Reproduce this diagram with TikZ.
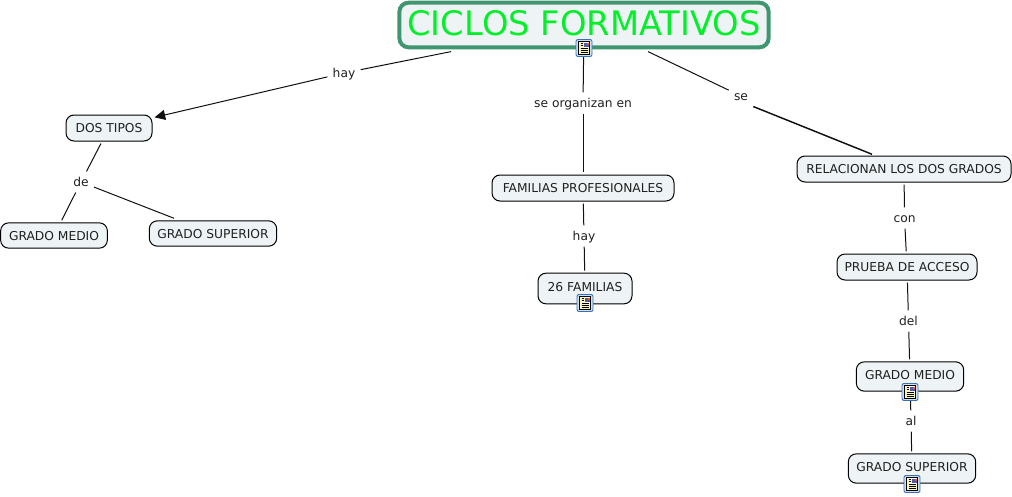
\documentclass[tikz,border=0pt]{standalone}
\usepackage{fontspec}
\setmainfont{DejaVu Sans}
\usetikzlibrary{arrows.meta}
\definecolor{nodefill}{HTML}{EEF4F6}
\definecolor{titleedge}{HTML}{3F9670}
\definecolor{titletext}{HTML}{05EE2A}
\definecolor{inktext}{HTML}{202020}
\definecolor{linkline}{HTML}{101010}
\definecolor{iconblue}{HTML}{3A6FB5}
\definecolor{iconfill}{HTML}{CFE0F2}
\definecolor{sheet}{HTML}{FBF6BE}
\tikzset{
  x=0.75pt,y=-0.75pt,
  concept/.style={draw=black,fill=nodefill,rounded corners=6pt,line width=0.75pt,inner sep=0pt,outer sep=1.9pt,
    font=\fontsize{9.2}{11}\selectfont,text=inktext,text height=6.8pt,text depth=0pt,align=center},
  withicon/.style={text depth=3pt},
  titlebox/.style={draw=titleedge,fill=nodefill,rounded corners=7pt,line width=3pt,inner sep=0pt,outer sep=3.2pt,
    font=\fontsize{25.3}{28}\selectfont,text=titletext,text height=17.5pt,text depth=1.5pt},
  linkname/.style={font=\fontsize{9.2}{11}\selectfont,text=inktext,text height=6.8pt,text depth=0pt,inner xsep=4pt,inner ysep=4.5pt,outer sep=0pt},
  link/.style={draw=linkline,line width=0.75pt},
  strong/.style={draw=linkline,line width=1.1pt},
  docicon/.pic={
    \draw[iconblue,fill=iconfill,line width=0.7pt,rounded corners=1.5pt] (-8,-8.5) rectangle (8,8.5);
    \draw[black,fill=sheet,line width=0.6pt] (-5.5,-6.5) rectangle (5.5,6.5);
    \fill[white] (-0.5,-6) rectangle (5,-0.5);
    \fill[gray!70!blue] (0,-5.5) rectangle (4.5,-1);
    \fill[orange!70!red] (2.5,-5.5) rectangle (4.5,-3.5);
    \draw[black,line width=0.55pt] (-3.5,-4.5) -- (-1,-4.5) (-3.5,-2.5) -- (-1,-2.5) (-3.5,0.5) -- (3.5,0.5) (-3.5,2.5) -- (3.5,2.5) (-3.5,4.5) -- (3.5,4.5);
  }
}
\begin{document}
\begin{tikzpicture}
\useasboundingbox (0,0) rectangle (1012,496);
% concepts
\node[titlebox,minimum width=277pt,minimum height=33.5pt] (title) at (584,25) {CICLOS FORMATIVOS};
\node[concept,minimum width=64.5pt,minimum height=19.5pt] (tipos) at (109,128) {DOS TIPOS};
\node[concept,minimum width=80pt,minimum height=19pt] (medioA) at (54,235.5) {GRADO MEDIO};
\node[concept,minimum width=95.5pt,minimum height=19pt] (superiorA) at (213,233.5) {GRADO SUPERIOR};
\node[concept,minimum width=136.5pt,minimum height=19.5pt] (familias) at (583,188) {FAMILIAS PROFESIONALES};
\node[concept,withicon,minimum width=70.5pt,minimum height=23pt] (veintiseis) at (585,288.5) {26 FAMILIAS};
\node[concept,minimum width=160.5pt,minimum height=19.5pt] (relacionan) at (904,169) {RELACIONAN LOS DOS GRADOS};
\node[concept,minimum width=105pt,minimum height=19.5pt] (prueba) at (907,267) {PRUEBA DE ACCESO};
\node[concept,withicon,minimum width=80.5pt,minimum height=22pt] (medioB) at (910,376.5) {GRADO MEDIO};
\node[concept,withicon,minimum width=95.5pt,minimum height=22pt] (superiorB) at (912,468.5) {GRADO SUPERIOR};
% link names
\node[linkname] (lhay) at (344,73) {hay};
\node[linkname] (lorg) at (583,103) {se organizan en};
\node[linkname] (lse) at (741,96) {se};
\node[linkname] (lde) at (81,182) {de};
\node[linkname] (lhayb) at (584,236) {hay};
\node[linkname] (lcon) at (904.5,218) {con};
\node[linkname] (ldel) at (908.5,321) {del};
\node[linkname] (lal) at (911,421) {al};
% connectors
\draw[link] (title) -- (lhay);
\draw[link,-{Triangle[length=8pt,width=7.5pt]}] (lhay) -- (tipos);
\draw[link] (title) -- (lorg);
\draw[link] (lorg) -- (familias);
\draw[link] ([xshift=48pt]title.south) -- (lse);
\draw[strong] (lse.south east) -- ([xshift=-24pt,yshift=-0.6pt]relacionan.north);
\draw[link] (tipos) -- (lde);
\draw[link] (lde) -- (medioA);
\draw[link] (lde) -- (superiorA);
\draw[link] (familias) -- (lhayb);
\draw[link] (lhayb) -- (veintiseis);
\draw[link] (relacionan) -- (lcon);
\draw[link] (lcon) -- (prueba);
\draw[link] (prueba) -- (ldel);
\draw[link] (ldel) -- (medioB);
\draw[link] (medioB) -- (lal);
\draw[link] (lal) -- (superiorB);
% resource icons
\pic at (584,48) {docicon};
\pic at (585,303) {docicon};
\pic at (910,392) {docicon};
\pic at (912,484) {docicon};
\end{tikzpicture}
\end{document}
